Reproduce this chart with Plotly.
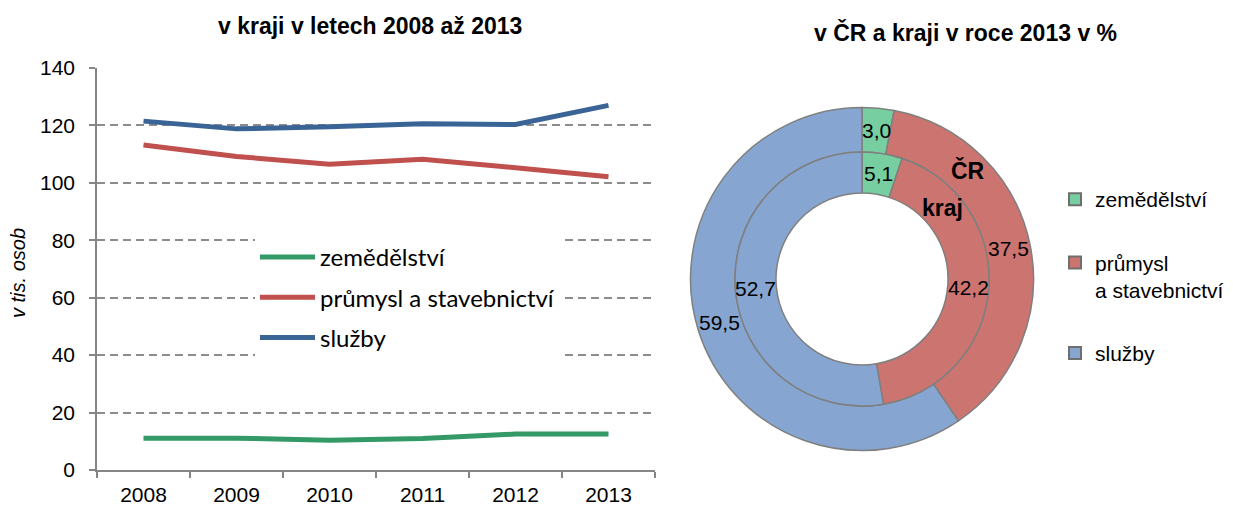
import math
import plotly.graph_objects as go

years = ["2008", "2009", "2010", "2011", "2012", "2013"]
zemedelstvi = [11.1, 11.1, 10.4, 11.0, 12.5, 12.5]
prumysl = [113.2, 109.2, 106.5, 108.2, 105.3, 102.1]
sluzby = [121.5, 118.8, 119.5, 120.6, 120.3, 127.0]

series_names = ["zemědělství", "průmysl a stavebnictví", "služby"]
line_colors = ["#339966", "#C0504D", "#3A6496"]

pie_labels = ["zemědělství", "průmysl<br>a stavebnictví", "služby"]
cr_values = [3.0, 37.5, 59.5]
kraj_values = [5.1, 42.2, 52.7]
pie_colors = ["#77CFA1", "#CC7470", "#86A6D1"]

# page (screenshot) pixel geometry; the page body adds an 8px margin
OFF = 8
W, H = 1233 - OFF, 508 - OFF


def px(x):
    return (x - OFF) / W


def py(y):
    return 1 - (y - OFF) / H


fig = go.Figure()

for name, vals, col in zip(series_names, [zemedelstvi, prumysl, sluzby], line_colors):
    fig.add_trace(go.Scatter(
        x=years, y=vals, mode="lines", name=name,
        line=dict(color=col, width=5),
        legend="legend", legendgroup=name,
    ))

# donuts
cx, cy = 862, 279
R_out, R_mid, R_in = 171.5, 127, 86


def dom(r):
    return dict(x=[px(cx - r), px(cx + r)], y=[py(cy + r), py(cy - r)])


common = dict(
    sort=False, direction="clockwise", rotation=0,
    textinfo="none",
    marker=dict(colors=pie_colors, line=dict(color="#7F7F7F", width=1.5)),
    showlegend=False, hoverinfo="label+value",
)
fig.add_trace(go.Pie(labels=pie_labels, values=cr_values, domain=dom(R_out), hole=R_mid / R_out, name="ČR", **common))
fig.add_trace(go.Pie(labels=pie_labels, values=kraj_values, domain=dom(R_mid), hole=R_in / R_mid, name="kraj", **common))

# pie legend entries
for lab, col in zip(pie_labels, pie_colors):
    fig.add_trace(go.Scatter(
        x=[None], y=[None], mode="markers", name=lab,
        marker=dict(symbol="square", size=11, color=col, line=dict(color="#6F6F6F", width=1.5)),
        legend="legend2", legendgroup="p_" + lab,
    ))

annotations = [
    dict(text="<b>v kraji v letech 2008 až 2013</b>", x=px(370), y=py(26), font=dict(size=23)),
    dict(text="<b>v ČR a kraji v roce 2013 v %</b>", x=px(965), y=py(32), font=dict(size=23)),
    dict(text="<i>v tis. osob</i>", x=px(18), y=py(273), textangle=-90, font=dict(size=20)),
    dict(text="<b>ČR</b>", x=px(968), y=py(170), font=dict(size=23)),
    dict(text="<b>kraj</b>", x=px(942), y=py(208), font=dict(size=23)),
]

# slice value labels at each slice's mid-angle, mid-ring radius
for vals, r0, r1 in [(cr_values, R_mid, R_out), (kraj_values, R_in, R_mid)]:
    total = sum(vals)
    cum = 0.0
    rm = (r0 + r1) / 2
    for v in vals:
        ang = math.radians((cum + v / 2) / total * 360)
        cum += v
        annotations.append(dict(
            text=f"{v:.1f}".replace(".", ","),
            x=px(cx + rm * math.sin(ang)), y=py(cy - rm * math.cos(ang)),
            font=dict(size=21),
        ))

for a in annotations:
    a.update(xref="paper", yref="paper", showarrow=False, xanchor="center", yanchor="middle")

fig.update_layout(
    width=W, height=H,
    margin=dict(l=0, r=0, t=0, b=0, autoexpand=False),
    paper_bgcolor="white", plot_bgcolor="white",
    separators=", ",
    font=dict(family="Liberation Sans", size=21, color="black"),
    xaxis=dict(
        domain=[px(97), px(655)], type="category", tickson="boundaries", range=[-0.5, 5.5],
        ticks="outside", ticklen=6, tickwidth=1.5, tickcolor="#868686",
        showline=True, linecolor="#868686", linewidth=1.5, showgrid=False,
        tickfont=dict(size=21), fixedrange=True, automargin=False, ticklabelstandoff=5,
    ),
    yaxis=dict(
        domain=[py(470), py(68)], range=[0, 140], dtick=20,
        ticks="outside", ticklen=6, tickwidth=1.5, tickcolor="#868686",
        showline=True, linecolor="#868686", linewidth=1.5,
        showgrid=True, gridcolor="#8C8C8C", gridwidth=1.5, griddash="8px,5px",
        zeroline=False, tickfont=dict(size=21), fixedrange=True, automargin=False,
        ticklabelstandoff=10,
    ),
    legend=dict(
        x=px(255), y=py(235), xanchor="left", yanchor="top",
        bgcolor="white", borderwidth=0, tracegroupgap=6, itemwidth=55,
        font=dict(family="Lato", size=24, color="black"),
    ),
    legend2=dict(
        x=px(1055), y=py(179), xanchor="left", yanchor="top",
        bgcolor="rgba(0,0,0,0)", tracegroupgap=33, valign="top",
        font=dict(family="Liberation Sans", size=21, color="black"),
        itemsizing="constant",
    ),
    annotations=annotations,
)

fig.write_html("out.html")
